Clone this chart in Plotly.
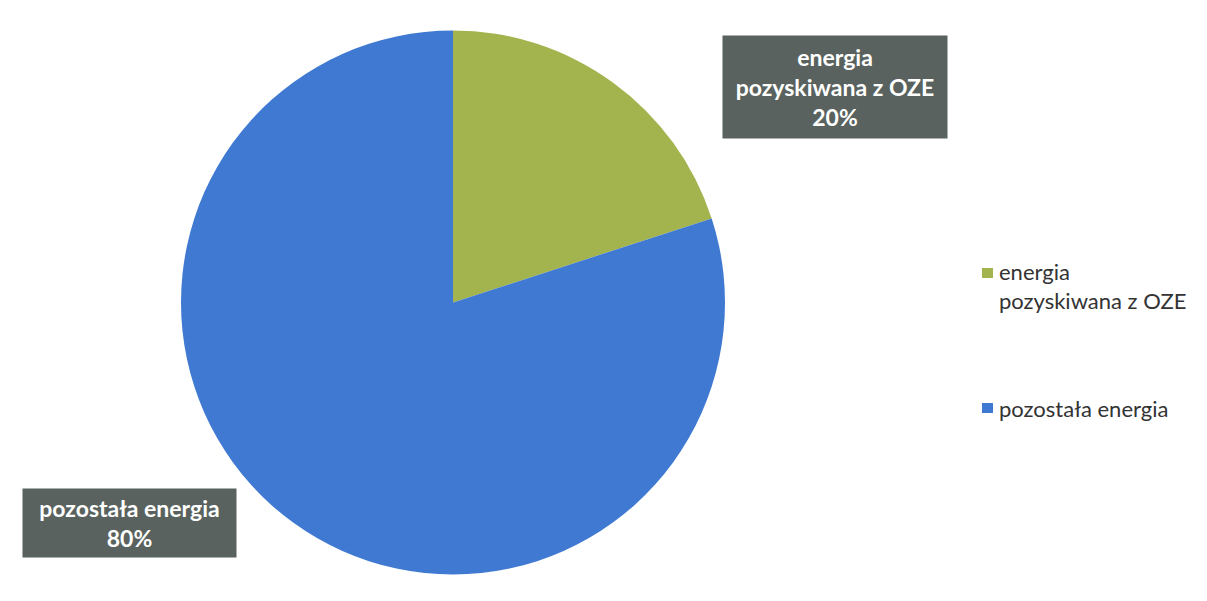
import plotly.graph_objects as go

labels = ["energia pozyskiwana z OZE", "pozostała energia"]
label_lines = ["energia<br>pozyskiwana z OZE", "pozostała energia"]
values = [20, 80]
colors = ["#A3B44E", "#3F79D2"]

W, H = 1207, 601

fig = go.Figure()
fig.add_trace(go.Pie(
    labels=labels,
    values=values,
    sort=False,
    direction="clockwise",
    rotation=0,
    marker=dict(colors=colors, line=dict(width=0)),
    textinfo="none",
    hoverinfo="label+percent",
    showlegend=False,
    domain=dict(x=[173 / W, 717 / W], y=[(H - 567) / H, (H - 22) / H]),
))

# data labels (dark boxes)
box_pos = [(827, 79, 212, 90), (121, 515, 201, 56)]
for lab, v, (px, py, bw, bh) in zip(label_lines, values, box_pos):
    pct = round(100 * v / sum(values))
    fig.add_annotation(
        x=px / W, y=1 - py / H, xref="paper", yref="paper",
        text=f"<b>{lab}<br>{pct}%</b>",
        showarrow=False,
        font=dict(family="Lato", size=23, color="white"),
        bgcolor="#59625E",
        borderpad=6,
        width=bw, height=bh,
        align="center", valign="middle",
        xanchor="center", yanchor="middle",
    )

# legend
leg_pos = [(265, 278), (400, 400)]
for lab, col, (sy, ty) in zip(label_lines, colors, leg_pos):
    fig.add_shape(type="rect", xref="paper", yref="paper",
                  x0=974 / W, x1=985 / W, y0=1 - (sy + 5) / H, y1=1 - (sy - 5) / H,
                  fillcolor=col, line=dict(width=0))
    fig.add_annotation(
        x=989 / W, y=1 - ty / H, xref="paper", yref="paper",
        text=lab, showarrow=False, align="left",
        font=dict(family="Lato", size=22, color="#333333"),
        xanchor="left", yanchor="middle",
    )

fig.update_layout(
    width=W, height=H,
    margin=dict(l=0, r=0, t=0, b=0),
    paper_bgcolor="white",
    plot_bgcolor="white",
)

fig.write_html("out.html")
